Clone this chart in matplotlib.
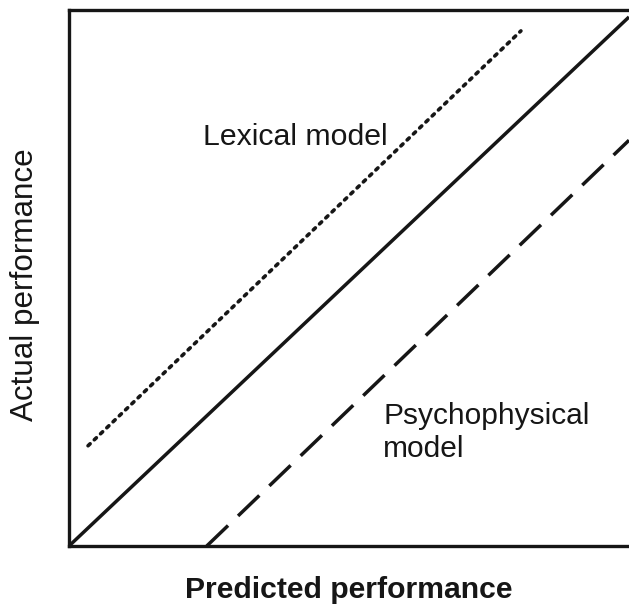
import matplotlib
matplotlib.use('Agg')
import matplotlib.pyplot as plt

plt.rcParams['font.family'] = ['Liberation Sans', 'DejaVu Sans']

# line end points, in arbitrary 0-10 units
solid_x = [0.0, 10.0]
solid_y = [0.0, 9.87]
lexical_x = [0.34, 8.07]
lexical_y = [1.87, 9.61]
psycho_x = [2.46, 10.0]
psycho_y = [0.0, 7.57]

x_label = 'Predicted performance'
y_label = 'Actual performance'
lexical_label = 'Lexical model'
psycho_label = 'Psychophysical\nmodel'

ink = '#161616'

fig = plt.figure(figsize=(6.29, 6.05), dpi=100)
ax = fig.add_axes([69 / 629, 59 / 605, 1 - 69 / 629, 536 / 605])

ax.plot(solid_x, solid_y, color=ink, lw=2.5, solid_capstyle='butt')
ax.plot(lexical_x, lexical_y, color=ink, lw=2.6,
        linestyle=(0, (0.8, 1.6)), dash_capstyle='round')
ax.plot(psycho_x, psycho_y, color=ink, lw=2.5,
        linestyle=(0, (8.5, 4.0)), dash_capstyle='butt')

ax.text(2.39, 7.48, lexical_label, fontsize=21.8, va='baseline', ha='left', color=ink)
ax.text(5.61, 2.69, psycho_label, fontsize=21.5, va='top', ha='left',
        color=ink, linespacing=1.25)

ax.set_xlim(0, 10)
ax.set_ylim(0, 10)
ax.set_xticks([])
ax.set_yticks([])
for side in ['left', 'bottom', 'top']:
    ax.spines[side].set_linewidth(2.4)
    ax.spines[side].set_color(ink)
ax.spines['right'].set_visible(False)

fig.text(349 / 629, 1 - 598 / 605, x_label, fontsize=21.7, fontweight='bold',
         ha='center', va='baseline', color=ink)
fig.text(25 / 629, 1 - 285 / 605, y_label, fontsize=22.6, rotation=90,
         ha='center', va='center', color=ink)

fig.savefig('out.png', dpi=100)
